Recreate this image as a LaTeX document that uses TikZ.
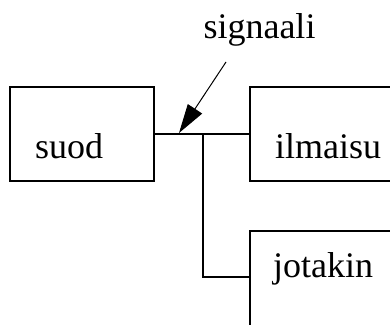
\documentclass[tikz,border=0pt]{standalone}
\usepackage{fontspec}
\setmainfont{Liberation Serif}
\usetikzlibrary{arrows.meta}
\begin{document}
\begin{tikzpicture}[x=1pt,y=-1pt,
  box/.style={draw,line width=2pt,rectangle,outer sep=0pt,inner sep=0pt},
  lbl/.style={inner sep=0pt,anchor=base west,font=\fontsize{36}{40}\selectfont},
  wire/.style={line width=2pt},
  pointer/.style={line width=1pt,-{Triangle[length=29pt,width=17pt]}}]
\clip (0,0) rectangle (390,324);
\node[box,minimum width=144pt,minimum height=94pt] (suod) at (82,134) {};
\node[box,minimum width=170pt,minimum height=94pt] (ilmaisu) at (335,134) {};
\node[box,minimum width=170pt,minimum height=119pt] (jotakin) at (335,290.5) {};
\node[lbl] (tsuod) at (35,158) {suod};
\node[lbl] (tilmaisu) at (275,158) {ilmaisu};
\node[lbl] (tjotakin) at (273,277) {jotakin};
\node[inner sep=0pt,anchor=base,font=\fontsize{36}{40}\selectfont] (signaali) at (259.5,38) {signaali};
\coordinate (junc) at (203,134);
\coordinate (bend) at (203,277);
\coordinate (tail) at (226,62);
\coordinate (tip) at (179,133);
\draw[wire] (suod.east) -- (ilmaisu.west);
\draw[wire] (junc) -- (bend) -- (bend -| jotakin.west);
\draw[pointer] (tail) -- (tip);
\end{tikzpicture}
\end{document}
